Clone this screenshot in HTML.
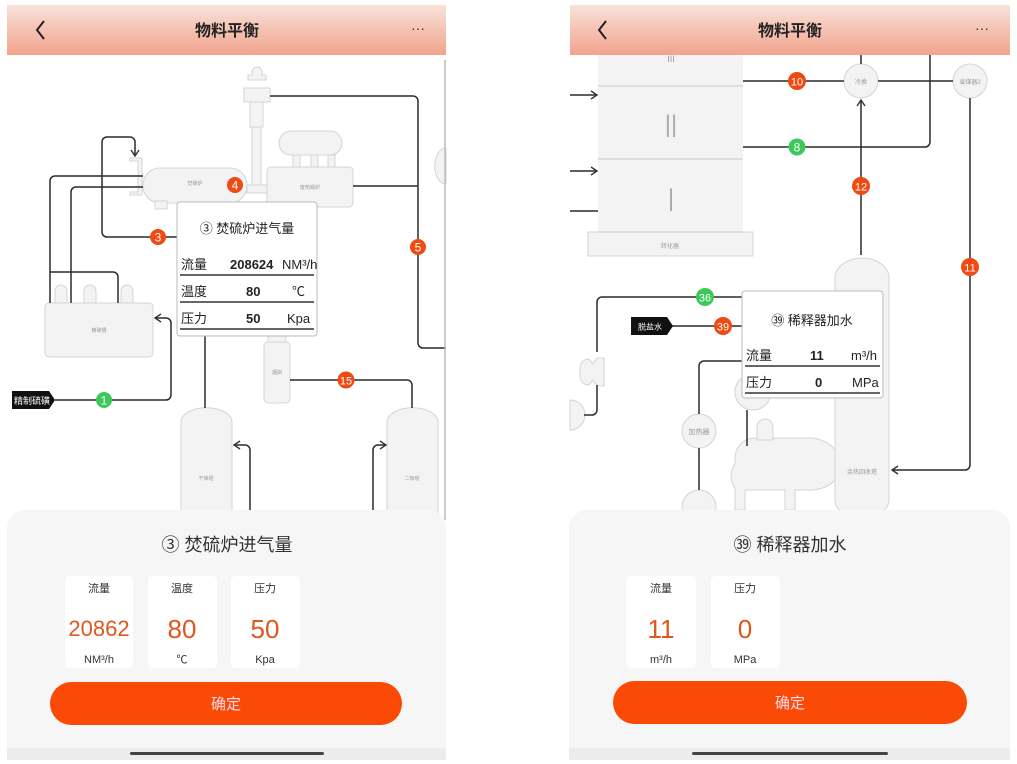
<!DOCTYPE html>
<html><head><meta charset="utf-8">
<style>
html,body{margin:0;padding:0;width:1017px;height:764px;overflow:hidden;background:#fff;}
svg{position:absolute;left:0;top:0;}
text{font-family:"Liberation Sans","Noto Sans CJK SC",sans-serif;}
</style></head>
<body>
<svg width="1017" height="764" viewBox="0 0 1017 764">
<defs>
<linearGradient id="hg" x1="0" y1="0" x2="0" y2="1">
<stop offset="0" stop-color="#f8e2da"/><stop offset="1" stop-color="#f2a38c"/>
</linearGradient>
<marker id="ar" markerWidth="10" markerHeight="10" refX="8" refY="5" orient="auto" markerUnits="userSpaceOnUse">
<path d="M2,1 L8,5 L2,9" fill="none" stroke="#333" stroke-width="1.4"/>
</marker>
</defs>

<!-- ============ LEFT PHONE ============ -->
<g fill="#f3f3f3" stroke="#d4d4d4" stroke-width="1">
<path d="M252,72 a5,5 0 0 1 10,0 v3 h4 v5 h-18 v-5 h4z"/>
<rect x="244" y="88" width="26" height="14"/>
<rect x="250" y="102" width="13" height="25"/>
<rect x="252" y="127" width="9" height="62"/>
<rect x="279" y="131" width="63" height="24" rx="12"/>
<rect x="293" y="155" width="7" height="13"/><rect x="311" y="155" width="7" height="13"/><rect x="328" y="155" width="7" height="13"/>
<rect x="267" y="167" width="86" height="40" rx="4"/>
<rect x="247" y="185" width="20" height="8"/>
<rect x="143" y="168" width="104" height="35" rx="17"/>
<rect x="155" y="201" width="12" height="8"/>
<path d="M130,158 h12 v37 h-12 v-3 h8 v-31 h-8z"/>
<rect x="45" y="303" width="108" height="54" rx="4"/>
<path d="M55,303 v-12 a6,6 0 0 1 12,0 v12z"/><path d="M84,303 v-12 a6,6 0 0 1 12,0 v12z"/><path d="M121,303 v-12 a6,6 0 0 1 12,0 v12z"/>
<rect x="268" y="335" width="18" height="8"/>
<rect x="264" y="342" width="26" height="61" rx="4"/>
<path d="M181,520 v-98 a25,14 0 0 1 51,0 v98z"/>
<path d="M387,520 v-98 a25,14 0 0 1 51,0 v98z"/>
<path d="M446,148 a10,16 0 0 0 0,36z"/>
</g>
<g font-size="5" fill="#999" text-anchor="middle">
<text x="195" y="185">焚硫炉</text><text x="310" y="189">废热锅炉</text><text x="99" y="332">精硫槽</text>
<text x="277" y="374">烟囱</text><text x="206" y="480">干燥塔</text><text x="412" y="480">二吸塔</text>
</g>
<g fill="none" stroke="#2a2a2a" stroke-width="1.5">
<path d="M270,96 H413 a5,5 0 0 1 5,5 V343 a5,5 0 0 0 5,5 H446"/>
<path d="M353,186 H418"/>
<path d="M143,176 H55 a5,5 0 0 0 -5,5 V303"/>
<path d="M143,187 H76 a5,5 0 0 0 -5,5 V303"/>
<path d="M50,272 H113 a5,5 0 0 1 5,5 V303"/>
<path d="M177,237 H107 a5,5 0 0 1 -5,-5 V142 a5,5 0 0 1 5,-5 H130 a5,5 0 0 1 5,5 V156" marker-end="url(#ar)"/>
<path d="M55,400 H166 a5,5 0 0 0 5,-5 V323 a5,5 0 0 0 -5,-5 H155" marker-end="url(#ar)"/>
<path d="M205,336 V408"/>
<path d="M290,380 H407 a5,5 0 0 1 5,5 V408"/>
<path d="M250,520 V450 a5,5 0 0 0 -5,-5 H234" marker-end="url(#ar)"/>
<path d="M373,520 V450 a5,5 0 0 1 5,-5 H386" marker-end="url(#ar)"/>
</g>
<line x1="445" y1="60" x2="445" y2="520" stroke="#bbb" stroke-width="1.5"/>
<path d="M12,391 H49 L55,400 L49,409 H12z" fill="#111"/>
<text x="32" y="404" font-size="9" fill="#fff" text-anchor="middle">精制硫磺</text>
<g font-size="12" text-anchor="middle" fill="#fff">
<circle cx="104" cy="400" r="8" fill="#3cc85a"/><text x="104" y="404.5">1</text>
<circle cx="158" cy="237" r="8" fill="#f04a12"/><text x="158" y="241.5">3</text>
<circle cx="235" cy="185" r="8" fill="#f04a12"/><text x="235" y="189.5">4</text>
<circle cx="418" cy="247" r="8" fill="#f04a12"/><text x="418" y="251.5">5</text>
<circle cx="346" cy="380" r="8.5" fill="#f04a12"/><text x="346" y="384.5" font-size="11">15</text>
</g>
<rect x="177" y="202" width="140" height="134" rx="3" fill="#fff" stroke="#bbb"/>
<text x="247" y="233" font-size="13" text-anchor="middle" fill="#222">③ 焚硫炉进气量</text>
<g font-size="13" fill="#222">
<text x="181" y="269">流量</text><text x="230" y="269" font-weight="bold">208624</text><text x="282" y="269">NM³/h</text>
<text x="181" y="296">温度</text><text x="246" y="296" font-weight="bold">80</text><text x="292" y="296">℃</text>
<text x="181" y="323">压力</text><text x="246" y="323" font-weight="bold">50</text><text x="287" y="323">Kpa</text>
</g>
<g stroke="#333" stroke-width="1.5"><line x1="180" y1="275" x2="314" y2="275"/><line x1="180" y1="302" x2="314" y2="302"/><line x1="180" y1="329" x2="314" y2="329"/></g>

<rect x="7" y="5" width="439" height="50" fill="url(#hg)"/>
<path d="M44,21 L37,30 L44,39" fill="none" stroke="#222" stroke-width="2"/>
<text x="227" y="36" font-size="16" font-weight="bold" text-anchor="middle" fill="#222">物料平衡</text>
<text x="418" y="33" font-size="14" text-anchor="middle" fill="#333">···</text>

<path d="M7,748 V528 a18,18 0 0 1 18,-18 H428 a18,18 0 0 1 18,18 V748z" fill="#f6f6f6"/>
<rect x="7" y="748" width="439" height="12" fill="#ececec"/>
<rect x="130" y="752" width="194" height="3" rx="1.5" fill="#444"/>
<text x="227" y="551" font-size="18" text-anchor="middle" fill="#333">③ 焚硫炉进气量</text>
<g fill="#fff"><rect x="65" y="576" width="68" height="92" rx="5"/><rect x="148" y="576" width="69" height="92" rx="5"/><rect x="231" y="576" width="69" height="92" rx="5"/></g>
<g font-size="11" text-anchor="middle" fill="#333">
<text x="99" y="592">流量</text><text x="182" y="592">温度</text><text x="265" y="592">压力</text>
<text x="99" y="663">NM³/h</text><text x="182" y="663">℃</text><text x="265" y="663">Kpa</text>
</g>
<g text-anchor="middle" fill="#e0561e">
<text x="99" y="636" font-size="22">20862</text><text x="182" y="638" font-size="26">80</text><text x="265" y="638" font-size="26">50</text>
</g>
<rect x="50" y="682" width="352" height="43" rx="21.5" fill="#fb4a06"/>
<text x="226" y="709" font-size="15" text-anchor="middle" fill="#fde">确定</text>

<!-- ============ RIGHT PHONE ============ -->
<g fill="#f3f3f3" stroke="#d4d4d4" stroke-width="1">
<rect x="598" y="55" width="145" height="177" stroke="none"/>
<rect x="588" y="232" width="165" height="24"/>
<path d="M835,500 V278 a27,20 0 0 1 54,0 V500 a27,18 0 0 1 -54,0z"/>
<path d="M735,456 a20,20 0 0 1 20,-18 h50 a30,20 0 0 1 30,12 V480 a30,20 0 0 1 -30,10 h-10 v20 h-10 v-20 h-40 v20 h-10 v-22 a20,20 0 0 1 0,-24z"/>
<path d="M757,440 v-13 a8,8 0 0 1 16,0 v13z"/>
<circle cx="753" cy="392" r="18"/>
<circle cx="699" cy="431" r="17"/>
<circle cx="699" cy="507" r="17"/>
<circle cx="861" cy="81" r="17"/><circle cx="970" cy="81" r="17"/>
<path d="M580,368 a9,9 0 0 1 9,-9 l4,5 l4,-6 h7 v28 h-7 l-4,-6 l-4,5 a9,9 0 0 1 -9,-9z"/>
<path d="M570,400 a12,12 0 0 1 0,30z"/>
</g>
<g stroke="#c8c8c8" stroke-width="1"><line x1="598" y1="86" x2="743" y2="86"/><line x1="598" y1="159" x2="743" y2="159"/><line x1="598" y1="232" x2="743" y2="232"/></g>
<g fill="#999" text-anchor="middle">
<text x="671" y="62" font-size="9">III</text>
<text x="671" y="132" font-size="24" fill="#aaa">||</text>
<text x="671" y="206" font-size="24" fill="#aaa">|</text>
<text x="670" y="248" font-size="6">转化器</text>
<text x="861" y="84" font-size="6">冷换</text><text x="970" y="84" font-size="6">省煤器2</text>
<text x="699" y="434" font-size="7">加热器</text><text x="862" y="474" font-size="6">余热回收塔</text>
</g>
<g fill="none" stroke="#2a2a2a" stroke-width="1.5">
<path d="M570,95 H597" marker-end="url(#ar)"/>
<path d="M570,171 H597" marker-end="url(#ar)"/>
<path d="M570,211 H598"/>
<path d="M743,81 H844 M878,81 H953"/>
<path d="M861,55 V64"/>
<path d="M930,55 V142 a5,5 0 0 1 -5,5 H743"/>
<path d="M861,255 V100" marker-end="url(#ar)"/>
<path d="M970,98 V465 a5,5 0 0 1 -5,5 H892" marker-end="url(#ar)"/>
<path d="M742,297 H602 a5,5 0 0 0 -5,5 V352 M597,385 V410 a5,5 0 0 1 -5,5 H584"/>
<path d="M672,326 H742"/>
<path d="M742,361 H704 a5,5 0 0 0 -5,5 V414 M699,448 V490"/>
<path d="M747,410 V446"/>
</g>
<path d="M631,317 H667 L673,326 L667,335 H631z" fill="#111"/>
<text x="650" y="329.5" font-size="8" fill="#fff" text-anchor="middle">脱盐水</text>
<g font-size="12" text-anchor="middle" fill="#fff">
<circle cx="797" cy="81" r="9" fill="#f04a12"/><text x="797" y="85.5" font-size="11">10</text>
<circle cx="797" cy="147" r="8.5" fill="#3cc85a"/><text x="797" y="151.5">8</text>
<circle cx="861" cy="186" r="9" fill="#f04a12"/><text x="861" y="190.5" font-size="11">12</text>
<circle cx="970" cy="267" r="9" fill="#f04a12"/><text x="970" y="271.5" font-size="11">11</text>
<circle cx="705" cy="297" r="9" fill="#3cc85a"/><text x="705" y="301.5" font-size="11">36</text>
<circle cx="723" cy="326" r="9" fill="#f04a12"/><text x="723" y="330.5" font-size="11">39</text>
</g>
<rect x="742" y="291" width="141" height="107" rx="3" fill="#fff" stroke="#bbb"/>
<text x="812" y="325" font-size="13" text-anchor="middle" fill="#222">㊴ 稀释器加水</text>
<g font-size="13" fill="#222">
<text x="746" y="360">流量</text><text x="810" y="360" font-weight="bold">11</text><text x="851" y="360">m³/h</text>
<text x="746" y="387">压力</text><text x="815" y="387" font-weight="bold">0</text><text x="852" y="387">MPa</text>
</g>
<g stroke="#333" stroke-width="1.5"><line x1="745" y1="366" x2="880" y2="366"/><line x1="745" y1="393" x2="880" y2="393"/></g>

<rect x="570" y="5" width="440" height="50" fill="url(#hg)"/>
<path d="M606,21 L599,30 L606,39" fill="none" stroke="#222" stroke-width="2"/>
<text x="790" y="36" font-size="16" font-weight="bold" text-anchor="middle" fill="#222">物料平衡</text>
<text x="982" y="33" font-size="14" text-anchor="middle" fill="#333">···</text>

<path d="M569,748 V528 a18,18 0 0 1 18,-18 H992 a18,18 0 0 1 18,18 V748z" fill="#f6f6f6"/>
<rect x="569" y="748" width="441" height="12" fill="#ececec"/>
<rect x="692" y="752" width="196" height="3" rx="1.5" fill="#444"/>
<text x="790" y="551" font-size="18" text-anchor="middle" fill="#333">㊴ 稀释器加水</text>
<g fill="#fff"><rect x="626" y="576" width="70" height="92" rx="5"/><rect x="711" y="576" width="69" height="92" rx="5"/></g>
<g font-size="11" text-anchor="middle" fill="#333">
<text x="661" y="592">流量</text><text x="745" y="592">压力</text>
<text x="661" y="663">m³/h</text><text x="745" y="663">MPa</text>
</g>
<g text-anchor="middle" fill="#e0561e" font-size="26">
<text x="661" y="638">11</text><text x="745" y="638">0</text>
</g>
<rect x="613" y="681" width="354" height="43" rx="21.5" fill="#fb4a06"/>
<text x="790" y="708" font-size="15" text-anchor="middle" fill="#fde">确定</text>
</svg>
</body></html>
